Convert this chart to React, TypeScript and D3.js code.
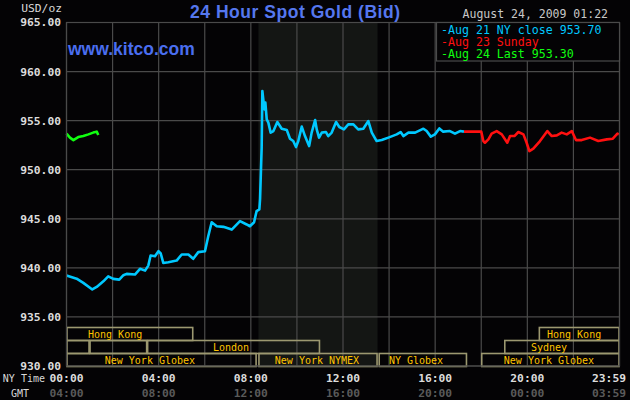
import * as d3 from "d3";
import React, { useEffect, useRef } from "react";

// hours since 00:00 NY time, price in USD/oz
const closeTimes = [
  0, 0.44, 0.73, 1.12, 1.31, 1.6, 1.81, 2.03, 2.29, 2.47, 2.61, 2.97, 3.19, 3.41, 3.55, 3.65, 3.84,
  3.99, 4.09, 4.2, 4.42, 4.78, 5.0, 5.29, 5.5, 5.72, 6.01, 6.15, 6.3, 6.52, 6.81, 7.17, 7.53, 7.82,
  7.96, 8.14, 8.25, 8.37, 8.4, 8.44, 8.47, 8.5, 8.54, 8.59, 8.63, 8.69, 8.76, 8.86, 8.98, 9.15, 9.34,
  9.56, 9.7, 9.84, 9.96, 10.06, 10.21, 10.35, 10.53, 10.64, 10.79, 10.86, 10.96, 11.08, 11.26, 11.36,
  11.51, 11.7, 11.84, 12.04, 12.23, 12.45, 12.66, 12.88, 13.1, 13.25, 13.46, 13.68, 13.97, 14.33,
  14.5, 14.62, 14.84, 15.13, 15.49, 15.63, 15.81, 15.99, 16.18, 16.35, 16.64, 16.86, 17.08, 17.25,
];
const closeValues = [
  939.21, 938.9, 938.47, 937.8, 938.06, 938.63, 939.14, 938.88, 938.8, 939.25, 939.39, 939.32, 939.9,
  939.72, 940.23, 941.26, 941.18, 941.7, 941.46, 940.5, 940.58, 940.74, 941.36, 941.36, 940.92, 941.6,
  941.7, 943.2, 944.65, 944.24, 944.18, 943.9, 944.76, 944.42, 944.24, 944.65, 945.78, 945.95, 947.0,
  950.03, 952.24, 958.02, 957.17, 956.15, 956.84, 955.13, 954.8, 953.78, 953.94, 954.86, 954.18,
  954.04, 953.16, 952.92, 952.31, 952.92, 954.39, 953.43, 952.41, 953.78, 955.06, 954.11, 953.27,
  953.78, 953.84, 953.43, 953.78, 954.86, 954.35, 954.11, 954.62, 954.62, 954.11, 954.18, 954.96,
  953.78, 952.92, 953.02, 953.27, 953.6, 953.84, 953.43, 953.78, 953.78, 954.18, 953.94, 953.37,
  953.6, 954.21, 953.88, 953.94, 953.67, 953.94, 953.88,
];

const sundayTimes = [
  17.25, 18.0, 18.09, 18.16, 18.31, 18.45, 18.67, 18.89, 19.13, 19.25, 19.44, 19.61, 19.83, 19.97,
  20.09, 20.26, 20.55, 20.87, 21.06, 21.28, 21.49, 21.71, 21.93, 22.11, 22.36, 22.72, 23.08, 23.45,
  23.71, 23.91, 23.97,
];
const sundayValues = [
  953.88, 953.88, 952.92, 952.75, 953.09, 953.67, 953.94, 953.6, 952.75, 953.43, 953.43, 953.84,
  953.6, 952.75, 951.9, 952.14, 952.92, 953.94, 953.43, 953.5, 953.78, 953.6, 953.94, 953.02,
  953.02, 953.27, 952.92, 953.09, 953.16, 953.67, 953.6,
];

const lastTimes = [0, 0.15, 0.3, 0.51, 0.73, 0.95, 1.16, 1.31, 1.38];
const lastValues = [953.67, 953.27, 953.02, 953.33, 953.43, 953.6, 953.78, 953.88, 953.53];

const priceTicks = [930, 935, 940, 945, 950, 955, 960, 965];
const hourTicks = [0, 4, 8, 12, 16, 20, 24];
const nyLabels = ["00:00", "04:00", "08:00", "12:00", "16:00", "20:00", "23:59"];
const gmtLabels = ["04:00", "08:00", "12:00", "16:00", "20:00", "00:00", "03:59"];

const legendLabels = ["-Aug 21 NY close 953.70", "-Aug 23 Sunday", "-Aug 24 Last 953.30"];
const seriesColors = ["#00c8ff", "#ff1010", "#10ff10"];

// trading sessions: [row, start hour, end hour, label, label centre hour]
const sessions: [number, number, number, string, number][] = [
  [0, 0, 5.5, "Hong Kong", 2.11],
  [0, 20.5, 24, "Hong Kong", 22.03],
  [1, 0, 1.0, "", 0],
  [1, 1.0, 3.5, "", 0],
  [1, 3.5, 11.0, "London", 7.14],
  [1, 19.0, 24, "Sydney", 20.94],
  [2, 0, 8.25, "New York Globex", 3.62],
  [2, 8.33, 13.5, "New York NYMEX", 10.87],
  [2, 13.55, 17.38, "NY Globex", 15.17],
  [2, 18.0, 24, "New York Globex", 20.94],
];
const nymexHours = [8.33, 13.5];

const mono = "'DejaVu Sans Mono', monospace";

export default function App() {
  const ref = useRef<SVGSVGElement | null>(null);

  useEffect(() => {
    const svg = d3.select(ref.current);
    svg.selectAll("*").remove();

    const width = 630;
    const height = 400;
    const x = d3.scaleLinear().domain([0, 24]).range([66.5, 619.5]);
    const y = d3.scaleLinear().domain([930, 965]).range([366, 22.5]);

    svg.attr("width", width).attr("height", height);
    svg.append("rect").attr("width", width).attr("height", height).attr("fill", "#040305");

    // NYMEX shading
    svg
      .append("rect")
      .attr("x", x(nymexHours[0]))
      .attr("y", y(965))
      .attr("width", x(nymexHours[1]) - x(nymexHours[0]))
      .attr("height", y(930) - y(965))
      .attr("fill", "#141614");

    const grid = svg.append("g").attr("stroke", "#4a4a4a").attr("stroke-width", 1.2);
    grid
      .selectAll("line.h")
      .data(priceTicks)
      .enter()
      .append("line")
      .attr("x1", x(0))
      .attr("x2", x(24))
      .attr("y1", (d) => y(d))
      .attr("y2", (d) => y(d));
    grid
      .selectAll("line.v")
      .data(d3.range(0, 25, 2))
      .enter()
      .append("line")
      .attr("x1", (d) => x(d))
      .attr("x2", (d) => x(d))
      .attr("y1", y(965))
      .attr("y2", y(930));

    // price labels
    svg
      .append("g")
      .selectAll("text")
      .data(priceTicks)
      .enter()
      .append("text")
      .attr("x", 61)
      .attr("y", (d) => y(d))
      .attr("dy", "0.35em")
      .attr("text-anchor", "end")
      .attr("fill", "#dcdcdc")
      .style("font", `bold 11.3px ${mono}`)
      .text((d) => d3.format(".2f")(d));

    svg
      .append("text")
      .attr("x", 62)
      .attr("y", 12)
      .attr("text-anchor", "end")
      .attr("fill", "#d8d8d8")
      .style("font", `11.3px ${mono}`)
      .text("USD/oz");

    // time labels (the last one sits flush right)
    const anchorFor = (i: number) => (i === hourTicks.length - 1 ? "end" : "middle");
    const xFor = (d: number, i: number) => (i === hourTicks.length - 1 ? 626 : x(d));
    const timeAxis = svg.append("g").style("font", `bold 11.3px ${mono}`);
    timeAxis
      .selectAll("text.ny")
      .data(hourTicks)
      .enter()
      .append("text")
      .attr("x", xFor)
      .attr("y", 382)
      .attr("text-anchor", (_, i) => anchorFor(i))
      .attr("fill", "#dcdcdc")
      .text((_, i) => nyLabels[i]);
    timeAxis
      .selectAll("text.gmt")
      .data(hourTicks)
      .enter()
      .append("text")
      .attr("x", xFor)
      .attr("y", 397)
      .attr("text-anchor", (_, i) => anchorFor(i))
      .attr("fill", "#5a5a5a")
      .text((_, i) => gmtLabels[i]);

    svg
      .append("text")
      .attr("x", 45)
      .attr("y", 382)
      .attr("text-anchor", "end")
      .attr("fill", "#d8d8d8")
      .style("font", `10px ${mono}`)
      .text("NY Time");
    svg
      .append("text")
      .attr("x", 20)
      .attr("y", 397)
      .attr("text-anchor", "middle")
      .attr("fill", "#d8d8d8")
      .style("font", `10px ${mono}`)
      .text("GMT");

    // trading sessions
    const rowTop = [327.5, 340.5, 353.5];
    const rowH = 13;
    const sess = svg.append("g");
    sess
      .selectAll("rect")
      .data(sessions)
      .enter()
      .append("rect")
      .attr("x", (d) => x(d[1]) + 0.5)
      .attr("y", (d) => rowTop[d[0]])
      .attr("width", (d) => x(d[2]) - x(d[1]) - 1)
      .attr("height", rowH)
      .attr("fill", "none")
      .attr("stroke", "#9c9870")
      .attr("stroke-width", 1.6);
    sess
      .selectAll("text")
      .data(sessions.filter((d) => d[3] !== ""))
      .enter()
      .append("text")
      .attr("x", (d) => x(d[4]))
      .attr("y", (d) => rowTop[d[0]] + rowH / 2)
      .attr("dy", "0.36em")
      .attr("text-anchor", "middle")
      .attr("fill", "#ffc400")
      .style("font", `10px ${mono}`)
      .text((d) => d[3]);

    // price lines
    const line = d3
      .line<[number, number]>()
      .x((d) => x(d[0]))
      .y((d) => y(d[1]));
    const series: [number[], number[]][] = [
      [closeTimes, closeValues],
      [sundayTimes, sundayValues],
      [lastTimes, lastValues],
    ];
    svg
      .append("g")
      .selectAll("path")
      .data(series)
      .enter()
      .append("path")
      .attr("d", (d) => line(d[0].map((t, i) => [t, d[1][i]] as [number, number])))
      .attr("fill", "none")
      .attr("stroke", (_, i) => seriesColors[i])
      .attr("stroke-width", 2.6)
      .attr("stroke-linejoin", "round");

    // frame
    svg
      .append("rect")
      .attr("x", x(0))
      .attr("y", y(965))
      .attr("width", x(24) - x(0))
      .attr("height", y(930) - y(965))
      .attr("fill", "none")
      .attr("stroke", "#4a4a4a")
      .attr("stroke-width", 1.2);

    // legend
    svg
      .append("rect")
      .attr("x", 436.5)
      .attr("y", y(965))
      .attr("width", x(24) - 436.5)
      .attr("height", 38.5)
      .attr("fill", "#040305")
      .attr("stroke", "#4a4a4a")
      .attr("stroke-width", 1.2);
    svg
      .append("g")
      .selectAll("text")
      .data(legendLabels)
      .enter()
      .append("text")
      .attr("x", 441)
      .attr("y", (_, i) => 29.5 + i * 12.2)
      .attr("dy", "0.36em")
      .attr("fill", (_, i) => seriesColors[i])
      .style("font", `11.6px ${mono}`)
      .text((d) => d);

    svg
      .append("text")
      .attr("x", 608)
      .attr("y", 18)
      .attr("text-anchor", "end")
      .attr("fill", "#c8c8c8")
      .style("font", `11.5px ${mono}`)
      .text("August 24, 2009 01:22");

    // titles
    svg
      .append("text")
      .attr("x", 190)
      .attr("y", 17.5)
      .attr("fill", "#5577ee")
      .attr("textLength", 210)
      .style("font", "bold 17.5px 'Liberation Sans', Arial, sans-serif")
      .text("24 Hour Spot Gold (Bid)");
    svg
      .append("text")
      .attr("x", 68)
      .attr("y", 55)
      .attr("fill", "#4a6ef0")
      .style("font", "bold 17.5px 'Liberation Sans', Arial, sans-serif")
      .text("www.kitco.com");
  }, []);

  return (
    <div style={{ position: "absolute", left: 0, top: 0 }}>
      <svg ref={ref} style={{ display: "block" }} />
    </div>
  );
}
